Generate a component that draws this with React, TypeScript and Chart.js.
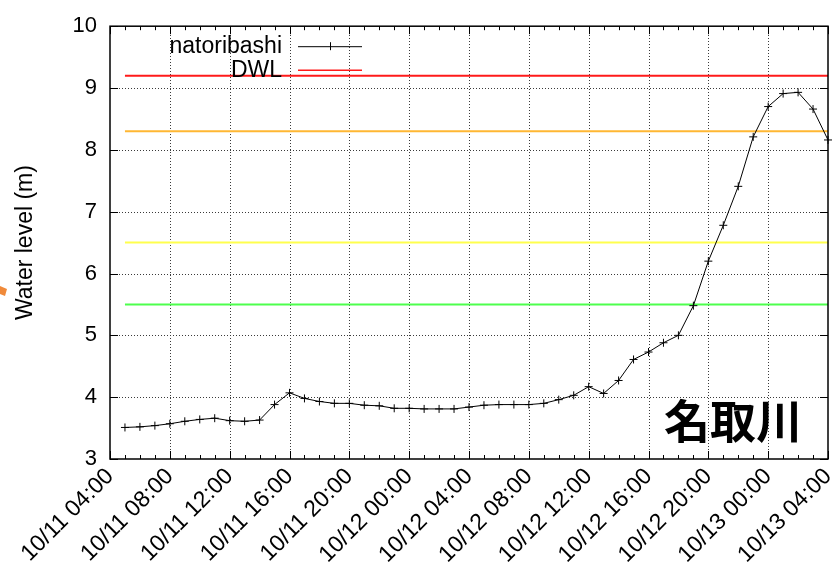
import React, { useEffect, useRef } from "react";
import { Chart, registerables } from "chart.js";

Chart.register(...registerables);

// Tick labels along the time axis (every 4 hours from 10/11 04:00)
const timeTickLabels = [
  "10/11 04:00", "10/11 08:00", "10/11 12:00", "10/11 16:00", "10/11 20:00",
  "10/12 00:00", "10/12 04:00", "10/12 08:00", "10/12 12:00", "10/12 16:00",
  "10/12 20:00", "10/13 00:00", "10/13 04:00",
];

// Observation times, hours after 10/11 04:00
const hourOffsets = [
  1, 2, 3, 4, 5, 6, 7, 8, 9, 10, 11, 12, 13, 14, 15, 16, 17, 18, 19, 20, 21, 22, 23, 24,
  25, 26, 27, 28, 29, 30, 31, 32, 33, 34, 35, 36, 37, 38, 39, 40, 41, 42, 43, 44, 45, 46, 47, 48,
];

// Water level at natoribashi (m)
const natoribashi = [
  3.51, 3.52, 3.54, 3.57, 3.61, 3.64, 3.66, 3.62, 3.61, 3.63, 3.88, 4.07,
  3.98, 3.93, 3.9, 3.9, 3.87, 3.86, 3.82, 3.82, 3.81, 3.81, 3.81, 3.84,
  3.87, 3.88, 3.88, 3.88, 3.9, 3.96, 4.03, 4.17, 4.06, 4.27, 4.61, 4.73,
  4.88, 5.0, 5.48, 6.2, 6.78, 7.41, 8.21, 8.7, 8.91, 8.93, 8.66, 8.16,
];

// Reference levels (m)
const thresholdNames = ["DWL", "level2", "level3", "level4"];
const thresholdLevels = [9.2, 8.3, 6.5, 5.5];
const thresholdColors = ["#ff1a1a", "#ffb733", "#ffff4d", "#4dff4d"];

const yTicks = [3, 4, 5, 6, 7, 8, 9, 10];

const FONT = "'Liberation Sans', Arial, sans-serif";

const decorPlugin = {
  id: "decor",
  beforeDatasetsDraw(chart: any) {
    const { ctx, chartArea, scales } = chart;
    const { left, right, top, bottom } = chartArea;
    const xs = scales.x;
    const ys = scales.y;
    ctx.save();
    ctx.strokeStyle = "#3a3a3a";
    ctx.lineWidth = 1;
    ctx.setLineDash([1, 2]);
    ctx.beginPath();
    for (let i = 1; i < timeTickLabels.length - 1; i++) {
      const px = Math.round(xs.getPixelForValue(i * 4)) + 0.5;
      ctx.moveTo(px, bottom);
      ctx.lineTo(px, top);
    }
    for (let i = 1; i < yTicks.length - 1; i++) {
      const py = Math.round(ys.getPixelForValue(yTicks[i])) + 0.5;
      ctx.moveTo(left, py);
      ctx.lineTo(right, py);
    }
    ctx.stroke();
    ctx.restore();
  },
  afterDatasetsDraw(chart: any) {
    const { ctx, chartArea, scales } = chart;
    const { left, right, top, bottom } = chartArea;
    const xs = scales.x;
    const ys = scales.y;
    ctx.save();
    // frame
    ctx.strokeStyle = "#000";
    ctx.lineWidth = 1.5;
    ctx.setLineDash([]);
    ctx.strokeRect(left, top, right - left, bottom - top);
    // inward ticks on x (hourly minor, 4-hourly major)
    ctx.lineWidth = 1;
    ctx.beginPath();
    for (let h = 0; h <= 48; h++) {
      const px = Math.round(xs.getPixelForValue(h)) + 0.5;
      const len = h % 4 === 0 ? 8 : 4;
      ctx.moveTo(px, bottom);
      ctx.lineTo(px, bottom - len);
      ctx.moveTo(px, top);
      ctx.lineTo(px, top + len);
    }
    for (const v of yTicks) {
      const py = Math.round(ys.getPixelForValue(v)) + 0.5;
      ctx.moveTo(left, py);
      ctx.lineTo(left + 8, py);
      ctx.moveTo(right, py);
      ctx.lineTo(right - 8, py);
    }
    ctx.stroke();

    // legend (gnuplot style: text then sample)
    ctx.font = `23px ${FONT}`;
    ctx.fillStyle = "#000";
    ctx.textAlign = "right";
    ctx.textBaseline = "middle";
    const tx = left + 172;
    const y1 = top + 20;
    const y2 = top + 44;
    ctx.fillText("natoribashi", tx, y1);
    ctx.fillText(thresholdNames[0], tx, y2);
    ctx.beginPath();
    ctx.strokeStyle = "#000";
    ctx.lineWidth = 1;
    ctx.moveTo(left + 188, y1 + 0.5);
    ctx.lineTo(left + 252, y1 + 0.5);
    ctx.moveTo(left + 220.5, y1 - 4);
    ctx.lineTo(left + 220.5, y1 + 4);
    ctx.stroke();
    ctx.beginPath();
    ctx.strokeStyle = thresholdColors[0];
    ctx.lineWidth = 1.5;
    ctx.moveTo(left + 188, y2);
    ctx.lineTo(left + 252, y2);
    ctx.stroke();

    // river name
    ctx.font = `bold 46px 'Noto Sans CJK JP', sans-serif`;
    ctx.fillStyle = "#000";
    ctx.textAlign = "center";
    ctx.textBaseline = "middle";
    ctx.fillText("名取川", right - 95, bottom - 38);
    ctx.restore();
  },
  afterDraw(chart: any) {
    const { ctx } = chart;
    ctx.save();
    ctx.fillStyle = "#f08a3a";
    ctx.beginPath();
    ctx.moveTo(0, 286);
    ctx.lineTo(7, 289);
    ctx.lineTo(5, 296);
    ctx.lineTo(0, 294);
    ctx.closePath();
    ctx.fill();
    ctx.restore();
  },
};

export default function App() {
  const canvasRef = useRef<HTMLCanvasElement | null>(null);

  useEffect(() => {
    document.body.style.margin = "0";
    const canvas = canvasRef.current;
    if (!canvas) return;

    const mainData = hourOffsets.map((h, i) => ({ x: h, y: natoribashi[i] }));
    const firstHour = hourOffsets[0];
    const lastHour = hourOffsets[hourOffsets.length - 1];

    const thresholdSets = thresholdLevels.map((lv, i) => ({
      label: thresholdNames[i],
      data: [
        { x: firstHour, y: lv },
        { x: lastHour, y: lv },
      ],
      borderColor: thresholdColors[i],
      backgroundColor: thresholdColors[i],
      borderWidth: 2,
      pointRadius: 0,
      fill: false,
    }));

    const chart = new Chart(canvas, {
      type: "line",
      data: {
        datasets: [
          {
            label: "natoribashi",
            data: mainData,
            borderColor: "#000",
            backgroundColor: "#000",
            borderWidth: 1,
            pointStyle: "cross",
            pointRadius: 4,
            pointBorderWidth: 1,
            pointBorderColor: "#000",
            fill: false,
            tension: 0,
            clip: false,
          } as any,
          ...thresholdSets,
        ],
      },
      plugins: [decorPlugin],
      options: {
        animation: false,
        responsive: false,
        devicePixelRatio: 1,
        layout: { padding: { top: 20, right: 5, left: 0, bottom: 0 } },
        plugins: {
          legend: { display: false },
          tooltip: { enabled: false },
        },
        scales: {
          x: {
            type: "linear",
            min: 0,
            max: 48,
            afterFit: (s: any) => {
              s.height = 108;
              s.paddingRight = 0;
              s.paddingLeft = 0;
            },
            ticks: {
              stepSize: 4,
              autoSkip: false,
              maxRotation: 45,
              minRotation: 45,
              padding: 4,
              color: "#000",
              font: { family: FONT, size: 23 },
              callback: (v: any) => timeTickLabels[Math.round(Number(v) / 4)] ?? "",
            },
            grid: { display: false, drawTicks: false },
            border: { display: false },
          },
          y: {
            type: "linear",
            min: 3,
            max: 10,
            afterFit: (s: any) => {
              s.width = 110;
            },
            ticks: {
              stepSize: 1,
              padding: 13,
              color: "#000",
              font: { family: FONT, size: 22 },
            },
            grid: { display: false, drawTicks: false },
            border: { display: false },
            title: {
              display: true,
              text: "Water level (m)",
              color: "#000",
              font: { family: FONT, size: 23 },
              padding: { top: 12, bottom: 0 },
            },
          },
        },
      },
    });

    return () => {
      chart.destroy();
    };
  }, []);

  return (
    <div style={{ width: 833, height: 567, position: "relative", background: "#fff" }}>
      <canvas ref={canvasRef} width={833} height={567} />
    </div>
  );
}
